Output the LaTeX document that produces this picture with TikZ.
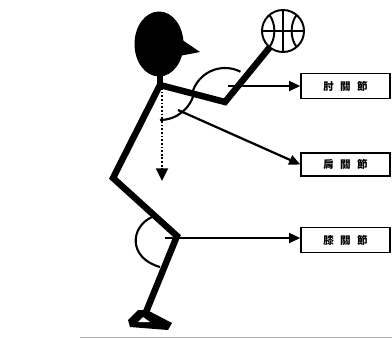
\documentclass[tikz,border=0pt]{standalone}
\usepackage{fontspec}
\newfontfamily\tcfont{Noto Sans CJK TC}
\usetikzlibrary{arrows.meta}

% spaced label text, pushed a little to the left of the box centre
\newcommand\jointtext[3]{#1\hspace{4.5pt}#2\hspace{4.5pt}#3\hspace{6.5pt}}

\tikzset{
  limb/.style={line width=4.6pt, line join=miter},
  arcline/.style={line width=1.5pt},
  ballline/.style={line width=1.4pt},
  pointer/.style={line width=1.6pt, -{Triangle[length=8pt,width=7pt]}},
  plumbline/.style={line width=1.4pt, dash pattern=on 1.3pt off 1.3pt, -{Triangle[length=9pt,width=8.5pt]}},
  jointbox/.style={draw, line width=0.9pt, minimum width=2.225cm, minimum height=0.64cm, inner sep=0pt,
    font=\tcfont\bfseries\fontsize{7.5}{8}\selectfont},
}

\begin{document}
\begin{tikzpicture}[x=0.025cm, y=0.025cm]
    \useasboundingbox (0,0) rectangle (392,338);
    % joints
    \coordinate (neck) at (160,265);
    \coordinate (shoulder) at (160,253);
    \coordinate (elbow) at (225,236);
    \coordinate (hand) at (270,291);
    \coordinate (hip) at (113,160);
    \coordinate (knee) at (177,102);
    \coordinate (ankle) at (146,26);
    % head and cap brim
    \fill (159,294) ellipse[x radius=24.5, y radius=32.5];
    \fill (172,305) -- (200,286) -- (174,281) -- cycle;
    % ball
    \draw[ballline] (283,307) circle[radius=21];
    \draw[ballline] (283,286) -- (283,328);
    \draw[ballline] (262,307) -- (304,307);
    \draw[ballline] (269.5,323) .. controls (276,314) and (276,300) .. (269.5,291);
    \draw[ballline] (296.5,323) .. controls (290,314) and (290,300) .. (296.5,291);
    % body
    \draw[limb] (neck) -- (shoulder);
    \draw[limb] (hand) -- (elbow) -- (shoulder) -- (hip) -- (knee) -- (ankle);
    % foot
    \fill (128,18) -- (138,28) -- (147,28) -- (172,15) -- (168,8) -- (130,11) -- cycle;
    \fill[white] (138,16) -- (143,21) -- (150,16) -- cycle;
    % joint angles
    \draw[arcline] (shoulder) ++(-90:35) arc[start angle=-90, end angle=-12, radius=35];
    \draw[arcline] (elbow) ++(168:34) arc[start angle=168, end angle=63, radius=34];
    \draw[arcline] (152,121) .. controls (130,111) and (128,80) .. (160,71);
    % plumb line
    \coordinate (plumbtop) at (162,250);
    \coordinate (plumbend) at (162,157);
    \draw[plumbline] (plumbtop) -- (plumbend);
    % labels
    \node[jointbox] (elbowbox) at (345.5,252) {\jointtext{肘}{關}{節}};
    \node[jointbox, minimum height=0.58cm] (shoulderbox) at (345.5,173.5) {\jointtext{肩}{關}{節}};
    \node[jointbox] (kneebox) at (345.5,98) {\jointtext{膝}{關}{節}};
    % pointers
    \coordinate (elbowtail) at (228,252);
    \coordinate (shouldertail) at (178,228);
    \coordinate (kneetail) at (165,100);
    \draw[pointer] (elbowtail) -- (elbowbox.west);
    \draw[pointer] (shouldertail) -- (shoulderbox.west);
    \draw[pointer] (kneetail) -- (kneetail -| kneebox.west);
    % floor rule
    \draw[gray!60, line width=0.6pt] (80,1) -- (392,1);
\end{tikzpicture}
\end{document}
